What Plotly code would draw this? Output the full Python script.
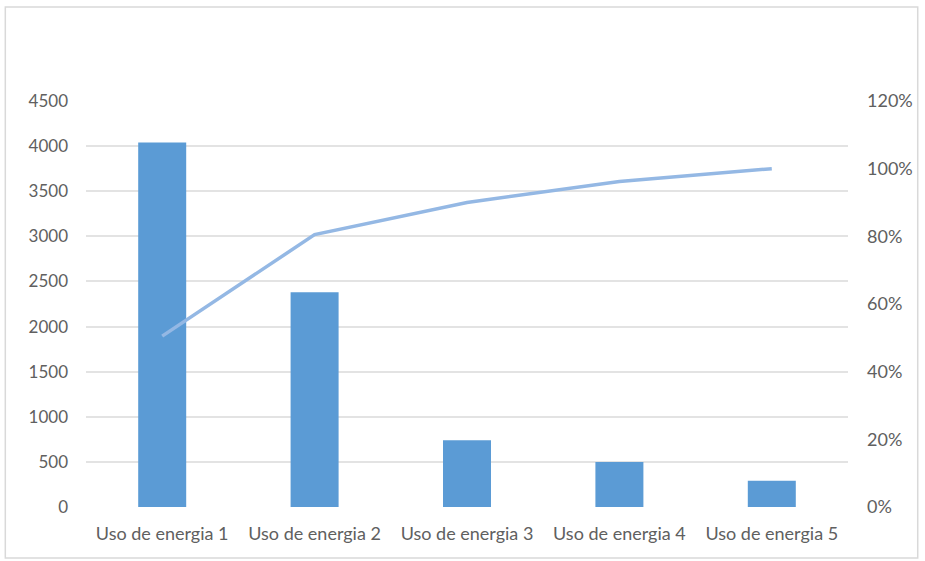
import plotly.graph_objects as go

# Energy-use Pareto data
categorias = ["Uso de energia 1", "Uso de energia 2", "Uso de energia 3",
              "Uso de energia 4", "Uso de energia 5"]
consumo = [4040, 2380, 740, 500, 290]
acumulado_pct = [0.505, 0.805, 0.900, 0.962, 1.0]

y_ticks = [0, 500, 1000, 1500, 2000, 2500, 3000, 3500, 4000, 4500]
y2_ticks = [0, 0.2, 0.4, 0.6, 0.8, 1.0, 1.2]
y2_labels = ["0%", "20%", "40%", "60%", "80%", "100%", "120%"]

W, H = 925, 561
L, R, T, B = 86, 74, 101, 54

font = dict(family="Lato, 'Open Sans', sans-serif", size=17, color="#606060")
xfont = dict(family="Lato, 'Open Sans', sans-serif", size=18, color="#606060")
grid = "#E3E3E3"

fig = go.Figure()
fig.add_trace(go.Bar(
    x=categorias, y=consumo, marker=dict(color="#5B9BD5", line=dict(width=0)),
    name="Consumo", yaxis="y",
))
fig.add_trace(go.Scatter(
    x=categorias, y=acumulado_pct, mode="lines",
    line=dict(color="#94B8E4", width=3.5), name="% acumulado", yaxis="y2",
))

pw, ph = W - L - R, H - T - B
bx0, bx1, by0, by1 = 5, 921, 7, 558

fig.update_layout(
    width=W, height=H,
    margin=dict(l=L, r=R, t=T, b=B, pad=0),
    paper_bgcolor="white", plot_bgcolor="white",
    showlegend=False, bargap=0.685, font=font,
    xaxis=dict(showgrid=False, showline=False, ticks="", tickfont=xfont,
               ticklabelstandoff=14),
    yaxis=dict(range=[0, 4500], tickvals=y_ticks, showgrid=True,
               gridcolor=grid, gridwidth=1.5, zeroline=False, showline=False,
               ticks="", tickfont=font, ticklabelstandoff=17),
    yaxis2=dict(range=[0, 1.2], tickvals=y2_ticks, ticktext=y2_labels,
                overlaying="y", side="right", showgrid=False, zeroline=False,
                showline=False, ticks="", tickfont=xfont, ticklabelstandoff=18),
    shapes=[dict(type="rect", xref="paper", yref="paper",
                 x0=(bx0 - L) / pw, x1=(bx1 - L) / pw,
                 y0=(H - B - by1) / ph, y1=(H - B - by0) / ph,
                 line=dict(color="#D9D9D9", width=1.5), layer="below")],
)

fig.write_html("out.html")
